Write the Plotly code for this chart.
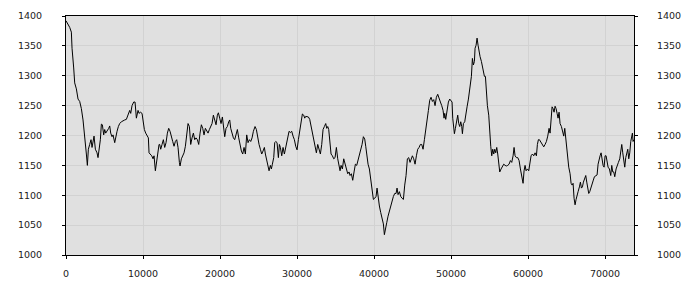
import plotly.graph_objects as go

# ---- data (x in sample units, y value) ----
x_seg1 = [0, 264, 480, 697, 784, 1000, 1130, 1346, 1563, 1779, 1996, 2212, 2342, 2515, 2645, 2775, 2905, 3078,
          3251, 3381, 3511, 3641, 3814, 4030, 4160, 4290, 4463, 4593, 4723, 4896, 5026, 5156, 5329, 5546, 5676,
          5806, 5978, 6108, 6325, 6455, 6628, 6801, 6974, 7191, 7407, 7624, 7840, 7970, 8143, 8273, 8403, 8576,
          8792, 8965, 9139, 9355, 9485, 9658, 9874, 10004, 10177, 10351, 10524, 10697, 10783, 10957, 11130,
          11303, 11433, 11606, 11779, 11952, 12082]
y_seg1 = [1392, 1386, 1381, 1373, 1346, 1313, 1288, 1278, 1261, 1257, 1245, 1226, 1204, 1182, 1169, 1150, 1177, 1185,
          1193, 1180, 1188, 1199, 1177, 1171, 1163, 1177, 1193, 1219, 1218, 1201, 1210, 1204, 1207, 1212, 1216,
          1204, 1198, 1201, 1188, 1199, 1207, 1215, 1220, 1223, 1225, 1226, 1227, 1231, 1237, 1242, 1237, 1250,
          1256, 1256, 1229, 1242, 1237, 1239, 1237, 1223, 1210, 1204, 1201, 1196, 1171, 1169, 1166,
          1161, 1166, 1141, 1161, 1171, 1185]

x_seg2 = [12169, 12299, 12472, 12645, 12818, 12991, 13165, 13338, 13511, 13684, 13857, 14030, 14203, 14376, 14549,
          14723, 14809, 14983, 15199, 15329, 15502, 15675, 15848, 16022, 16195, 16368, 16541, 16714, 16887, 17061,
          17234, 17407, 17580, 17753, 17926, 18099, 18273, 18446, 18619, 18792, 18965, 19139, 19312, 19484, 19658,
          19788, 19961, 20134, 20308, 20481, 20611, 20783, 20957, 21130, 21260, 21390, 21563, 21736, 21909, 22082,
          22256, 22429, 22602, 22775, 22948, 23121, 23295, 23467, 23640, 23814, 23987, 24160, 24333]
y_seg2 = [1185, 1177, 1185, 1193, 1180, 1188, 1204, 1212, 1207, 1196, 1190, 1182, 1190, 1193, 1180,
          1155, 1149, 1161, 1169, 1171, 1182, 1201, 1220, 1215, 1185, 1196, 1204, 1193, 1196, 1193,
          1185, 1204, 1218, 1212, 1201, 1212, 1207, 1204, 1210, 1215, 1220, 1234, 1226, 1218, 1234,
          1238, 1229, 1220, 1231, 1215, 1198, 1212, 1215, 1223, 1226, 1212, 1201, 1196, 1193, 1201,
          1210, 1196, 1182, 1174, 1169, 1180, 1169, 1201, 1188, 1193, 1190, 1196, 1207]

x_seg3 = [24549, 24723, 24896, 25069, 25242, 25415, 25588, 25762, 25892, 26022, 26195, 26368, 26541, 26671, 26801,
          26974, 27104, 27234, 27407, 27580, 27710, 27840, 28013, 28186, 28359, 28489, 28619, 28792, 28965, 29139,
          29312, 29485, 29658, 29831, 30004, 30177, 30350, 30523, 30697, 30870, 31000, 31130, 31303, 31476, 31649,
          31822, 31996, 32169, 32342, 32515, 32688, 32861, 33034, 33208, 33381, 33554, 33727, 33857, 33987, 34117,
          34247, 34420, 34593, 34766, 34939, 35113, 35286, 35459, 35589, 35719, 35892, 36065, 36238, 36411, 36584,
          36757]
y_seg3 = [1215, 1210, 1196, 1185, 1177, 1169, 1174, 1180, 1169, 1161, 1150, 1141, 1150, 1144, 1152,
          1163, 1188, 1190, 1188, 1163, 1185, 1180, 1166, 1180, 1169, 1177, 1185, 1201, 1207, 1205,
          1207, 1199, 1193, 1182, 1176, 1193, 1210, 1220, 1236, 1234, 1229, 1232, 1231, 1231, 1227,
          1215, 1204, 1196, 1185, 1171, 1185, 1174, 1169, 1185, 1210, 1215, 1220, 1212, 1215, 1210,
          1188, 1169, 1166, 1161, 1163, 1180, 1161, 1150, 1141, 1150, 1144, 1161, 1152, 1144, 1136,
          1139]

x_seg4 = [36887, 37061, 37234, 37407, 37580, 37753, 37926, 38099, 38273, 38446, 38619, 38792, 38922, 39052, 39225,
          39398, 39571, 39744, 39918, 40091, 40264, 40394, 40524, 40697, 40870, 41043, 41216, 41346, 41477, 41650,
          41822, 41996, 42169, 42342, 42515, 42688, 42861, 42991, 43121, 43295, 43467, 43640, 43814, 43987, 44160,
          44333, 44506, 44679, 44853, 44983, 45156, 45329, 45502, 45675, 45848, 46022, 46195, 46368, 46541, 46714,
          46887, 47061, 47234, 47407, 47580, 47753, 47926, 48099, 48273, 48446, 48619, 48792, 48965, 49095]
y_seg4 = [1133, 1136, 1125, 1139, 1152, 1150, 1158, 1166, 1177, 1185, 1198, 1194, 1182, 1166, 1152,
          1144, 1125, 1106, 1093, 1095, 1098, 1112, 1095, 1082, 1071, 1063, 1052, 1034, 1046, 1054,
          1065, 1073, 1084, 1093, 1098, 1103, 1103, 1112, 1101, 1106, 1098, 1095, 1093, 1117, 1133,
          1161, 1163, 1155, 1161, 1166, 1161, 1152, 1166, 1177, 1180, 1185, 1185, 1177, 1193, 1207,
          1226, 1242, 1259, 1264, 1257, 1260, 1250, 1264, 1269, 1261, 1256, 1250, 1242, 1229]

x_seg5 = [49182, 49312, 49485, 49658, 49831, 50004, 50134, 50221, 50350, 50437, 50567, 50697, 50870, 51000, 51130,
          51260, 51390, 51477, 51606, 51779, 51909, 52082, 52256, 52386, 52516, 52645, 52775, 52905, 53035, 53122,
          53251, 53381, 53511, 53641, 53771, 53944, 54074, 54204, 54334, 54464, 54594, 54723, 54897, 55026, 55156,
          55286, 55416, 55546, 55676, 55806, 55936, 56066, 56195, 56325, 56498, 56672, 56845, 57018, 57191, 57364,
          57537, 57711, 57884, 58057, 58186, 58316, 58490, 58663, 58836, 59009, 59182, 59355, 59485, 59615, 59745,
          59918, 60091, 60221, 60394, 60567, 60740, 60913, 61087, 61216, 61346, 61476]
y_seg5 = [1237, 1227, 1242, 1256, 1261, 1259, 1256, 1229, 1210, 1203, 1212, 1220, 1234, 1220, 1215,
          1223, 1215, 1203, 1220, 1223, 1237, 1248, 1261, 1272, 1286, 1299, 1329, 1318, 1324, 1346,
          1351, 1363, 1351, 1340, 1332, 1324, 1316, 1302, 1299, 1299, 1272, 1250, 1234, 1199, 1182,
          1166, 1177, 1169, 1177, 1171, 1180, 1169, 1152, 1139, 1144, 1147, 1152, 1150, 1149, 1150,
          1152, 1158, 1155, 1166, 1180, 1166, 1163, 1163, 1158, 1144, 1133, 1120, 1141, 1150, 1141,
          1144, 1141, 1150, 1166, 1169, 1166, 1171, 1166, 1185, 1193, 1193]

x_seg6 = [61692, 61866, 62039, 62212, 62385, 62558, 62731, 62861, 62991, 63121, 63251, 63381, 63511, 63641, 63771,
          63900, 64030, 64160, 64334, 64507, 64637, 64767, 64897, 65026, 65156, 65286, 65459, 65589, 65719, 65849,
          65978, 66108, 66238, 66368, 66498, 66671, 66801, 66931, 67061, 67191, 67364, 67494, 67624, 67753, 67883,
          68013, 68143, 68273, 68446, 68619, 68792, 68965, 69095, 69225, 69355, 69485, 69615, 69745, 69875, 70004,
          70134, 70264, 70394, 70567, 70740, 70870, 71000, 71130, 71260, 71433, 71563, 71736, 71909, 72039, 72169,
          72299, 72429, 72559, 72689, 72819, 72949, 73078, 73208, 73338, 73468, 73555, 73641, 73760]
y_seg6 = [1188, 1185, 1181, 1185, 1190, 1199, 1212, 1204, 1226, 1248, 1245, 1239, 1249, 1245, 1237,
          1229, 1239, 1220, 1215, 1204, 1199, 1212, 1196, 1177, 1158, 1147, 1136, 1120, 1117, 1120,
          1095, 1084, 1093, 1098, 1106, 1114, 1122, 1112, 1114, 1122, 1128, 1133, 1122, 1114, 1103,
          1106, 1112, 1120, 1124, 1131, 1133, 1134, 1152, 1161, 1166, 1171, 1158, 1150, 1147, 1166,
          1166, 1152, 1147, 1144, 1133, 1150, 1139, 1139, 1131, 1144, 1150, 1155, 1161, 1177, 1185,
          1171, 1155, 1147, 1163, 1169, 1177, 1161, 1171, 1190, 1196, 1204, 1190, 1193]

x_ticks = [0, 10000, 20000, 30000, 40000, 50000, 60000, 70000]
y_ticks = [1000, 1050, 1100, 1150, 1200, 1250, 1300, 1350, 1400]
x_max = 73760

xs, ys = [], []
for a, b in [(x_seg1, y_seg1), (x_seg2, y_seg2), (x_seg3, y_seg3),
             (x_seg4, y_seg4), (x_seg5, y_seg5), (x_seg6, y_seg6)]:
    assert len(a) == len(b), (len(a), len(b))
    xs += a
    ys += b

FONT = dict(family="DejaVu Sans", size=9.5, color="#222222")
GRID = "#d2d2d2"

fig = go.Figure()
fig.add_trace(go.Scatter(x=xs, y=ys, mode="lines",
                         line=dict(color="#000000", width=1), hoverinfo="skip",
                         showlegend=False))
# invisible trace to carry the right-hand axis
fig.add_trace(go.Scatter(x=[xs[0]], y=[ys[0]], yaxis="y2", mode="lines",
                         line=dict(width=0), showlegend=False, hoverinfo="skip"))

fig.update_layout(
    width=700, height=300,
    margin=dict(l=66, r=66, t=10, b=45),
    paper_bgcolor="#ffffff", plot_bgcolor="#e0e0e0",
    font=FONT,
    xaxis=dict(range=[0, x_max], tickvals=x_ticks, ticktext=[str(v) for v in x_ticks],
               showgrid=True, gridcolor=GRID, gridwidth=1, zeroline=False,
               showline=True, linecolor="#000000", linewidth=1, mirror=True,
               ticks="outside", ticklen=3, tickcolor="#000000",
               ticklabelstandoff=7, tickfont=FONT),
    yaxis=dict(range=[1000, 1400], tickvals=y_ticks,
               showgrid=True, gridcolor=GRID, gridwidth=1, zeroline=False,
               showline=True, linecolor="#000000", linewidth=1, mirror=True,
               ticks="outside", ticklen=3, tickcolor="#000000",
               ticklabelstandoff=18, tickfont=FONT),
    yaxis2=dict(range=[1000, 1400], tickvals=y_ticks, overlaying="y", side="right",
                showgrid=False, zeroline=False, showline=False,
                ticks="outside", ticklen=3, tickcolor="#000000",
                ticklabelstandoff=17, tickfont=FONT),
)

fig.write_html("out.html")
